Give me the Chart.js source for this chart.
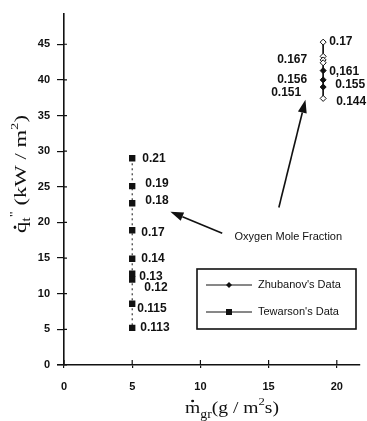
<!DOCTYPE html>
<html>
<head>
<meta charset="utf-8">
<script src="https://cdn.jsdelivr.net/npm/chart.js@4.4.1/dist/chart.umd.min.js"></script>
<style>
  html, body { margin: 0; padding: 0; background: #fff; }
</style>
</head>
<body>
<canvas id="heatChart" width="367" height="421"></canvas>
<script>
// === Data ===
const xTicks = [0, 5, 10, 15, 20];
const yTicks = [0, 5, 10, 15, 20, 25, 30, 35, 40, 45];

// Tewarson: mass flux (g/m2s) vs heat flux (kW/m2), labelled by O2 mole fraction
const tewMass = [5, 5, 5, 5, 5, 5, 5, 5, 5];
const tewHeat = [29.0, 25.1, 22.7, 18.9, 14.9, 12.8, 12.0, 8.6, 5.2];
const tewO2 = ["0.21", "0.19", "0.18", "0.17", "0.14", "0.13", "0.12", "0.115", "0.113"];

// Zhubanov
const zhMass = [19, 19, 19, 19, 19, 19, 19, 19];
const zhHeat = [45.3, 43.3, 42.8, 42.4, 41.3, 40.0, 39.0, 37.4];
const zhFilled = [false, false, false, false, true, true, true, false];
const zhO2 = ["0.17", "0.167", "0,161", "0.156", "0.155", "0.151", "0.144"];
const zhO2Heat = [45.3, 42.9, 41.1, 40.0, 39.3, 38.2, 36.9];

// === Label placement (pixels relative to the column) ===
const tewLabelDx = [10, 13, 13, 9, 9, 7, 12, 5, 8];
const tewLabelDy = [0, -2, -3, 2, 0, 3, 8, 5, 0];
const zhLabelDx = [6, -16, 6, -16, 12, -22, 13]; // negative = right-aligned on the left

const ink = "#111";
const labelFont = "bold 12px 'Liberation Sans', Arial, sans-serif";

// draw a run of text pieces (normal / sub / sup) stretched to a target width
function drawRich(ctx, pieces, cx, baseY, targetW) {
  let w = 0;
  pieces.forEach((p) => { ctx.font = p.font; p.w = ctx.measureText(p.t).width; w += p.w; });
  const k = targetW / w;
  ctx.save();
  ctx.translate(cx - targetW / 2, baseY);
  ctx.scale(k, 1);
  let x = 0;
  pieces.forEach((p) => {
    ctx.font = p.font;
    ctx.fillText(p.t, x, p.dy || 0);
    if (p.dot) {
      ctx.beginPath();
      ctx.arc(x + p.w / 2, -p.dot, 1.3, 0, Math.PI * 2);
      ctx.fill();
    }
    x += p.w;
  });
  ctx.restore();
}

const decorPlugin = {
  id: "decor",
  afterDraw(chart) {
    const { ctx, scales: { x, y } } = chart;
    ctx.save();
    ctx.strokeStyle = ink;
    ctx.fillStyle = ink;

    // inner halves of the crossing ticks + axis stub left of origin
    ctx.lineWidth = 1.2;
    ctx.beginPath();
    yTicks.forEach((v) => {
      const py = y.getPixelForValue(v);
      ctx.moveTo(x.left, py);
      ctx.lineTo(x.left + 3, py);
    });
    xTicks.forEach((v) => {
      const px = x.getPixelForValue(v);
      ctx.moveTo(px, y.bottom);
      ctx.lineTo(px, y.bottom - 5);
    });
    ctx.moveTo(x.left - 7, y.bottom);
    ctx.lineTo(x.left, y.bottom);
    ctx.stroke();

    // point labels
    ctx.font = labelFont;
    ctx.textBaseline = "middle";
    tewO2.forEach((t, i) => {
      ctx.textAlign = "left";
      ctx.fillText(t, x.getPixelForValue(tewMass[i]) + tewLabelDx[i], y.getPixelForValue(tewHeat[i]) + tewLabelDy[i]);
    });
    zhO2.forEach((t, i) => {
      const dx = zhLabelDx[i];
      ctx.textAlign = dx < 0 ? "right" : "left";
      ctx.fillText(t, x.getPixelForValue(zhMass[0]) + dx, y.getPixelForValue(zhO2Heat[i]));
    });

    // annotation text + arrows
    ctx.font = "11px 'Liberation Sans', Arial, sans-serif";
    ctx.textAlign = "left";
    ctx.fillText("Oxygen Mole Fraction", x.getPixelForValue(12.5), y.getPixelForValue(18.0));
    const arrow = (x0, y0, x1, y1) => {
      const ax = x.getPixelForValue(x0), ay = y.getPixelForValue(y0);
      const bx = x.getPixelForValue(x1), by = y.getPixelForValue(y1);
      const ang = Math.atan2(by - ay, bx - ax);
      const hl = 13, hw = 4.5;
      ctx.lineWidth = 1.6;
      ctx.beginPath();
      ctx.moveTo(ax, ay);
      ctx.lineTo(bx - hl * Math.cos(ang), by - hl * Math.sin(ang));
      ctx.stroke();
      ctx.beginPath();
      ctx.moveTo(bx, by);
      ctx.lineTo(bx - hl * Math.cos(ang) + hw * Math.sin(ang), by - hl * Math.sin(ang) - hw * Math.cos(ang));
      ctx.lineTo(bx - hl * Math.cos(ang) - hw * Math.sin(ang), by - hl * Math.sin(ang) + hw * Math.cos(ang));
      ctx.closePath();
      ctx.fill();
    };
    arrow(11.6, 18.5, 7.8, 21.5);
    arrow(15.75, 22.1, 17.7, 37.2);

    // legend box
    ctx.lineWidth = 1.6;
    ctx.strokeRect(197, 269, 159, 60);
    ctx.lineWidth = 1;
    ctx.beginPath();
    ctx.moveTo(206, 285); ctx.lineTo(252, 285);
    ctx.moveTo(206, 312); ctx.lineTo(252, 312);
    ctx.stroke();
    ctx.beginPath();
    ctx.moveTo(229, 282); ctx.lineTo(232, 285); ctx.lineTo(229, 288); ctx.lineTo(226, 285);
    ctx.closePath();
    ctx.fill();
    ctx.fillRect(226, 309, 6, 6);
    ctx.font = "11px 'Liberation Sans', Arial, sans-serif";
    ctx.textBaseline = "middle";
    ctx.fillText("Zhubanov's Data", 258, 285);
    ctx.fillText("Tewarson's Data", 258, 312);

    // axis titles
    ctx.textAlign = "left";
    ctx.textBaseline = "alphabetic";
    const serif = "'Liberation Serif', 'Times New Roman', serif";
    drawRich(ctx, [
      { t: "m", font: "17px " + serif, dot: 12 },
      { t: "gr", font: "12px " + serif, dy: 5 },
      { t: "(g / m", font: "17px " + serif },
      { t: "2", font: "11px " + serif, dy: -8 },
      { t: "s)", font: "17px " + serif },
    ], 232, 413, 94);

    ctx.save();
    ctx.translate(26, 174);
    ctx.rotate(-Math.PI / 2);
    drawRich(ctx, [
      { t: "q", font: "17px " + serif, dot: 11 },
      { t: "t", font: "12px " + serif, dy: 4 },
      { t: "\"", font: "11px " + serif, dy: -9 },
      { t: " (kW / m", font: "17px " + serif },
      { t: "2", font: "11px " + serif, dy: -8 },
      { t: ")", font: "17px " + serif },
    ], 0, 0, 118);
    ctx.restore();

    ctx.restore();
  },
};

const ctx = document.getElementById("heatChart").getContext("2d");

new Chart(ctx, {
  type: "scatter",
  data: {
    datasets: [
      {
        label: "Zhubanov's Data",
        data: zhMass.map((m, i) => ({ x: m, y: zhHeat[i] })),
        showLine: true,
        borderColor: ink,
        borderWidth: 1,
        pointStyle: "rectRot",
        pointRadius: 3,
        pointBorderWidth: 1,
        pointBorderColor: ink,
        pointBackgroundColor: zhFilled.map((f) => (f ? ink : "#fff")),
      },
      {
        label: "Tewarson's Data",
        data: tewMass.map((m, i) => ({ x: m, y: tewHeat[i] })),
        showLine: true,
        borderColor: ink,
        borderWidth: 1,
        borderDash: [2, 3],
        pointStyle: "rect",
        pointRadius: 4.5,
        pointBorderWidth: 0,
        pointBackgroundColor: ink,
      },
    ],
  },
  options: {
    responsive: false,
    animation: false,
    layout: { padding: { top: 10, right: 7, left: 0, bottom: 0 } },
    plugins: {
      legend: { display: false },
      tooltip: { enabled: false },
    },
    scales: {
      x: {
        type: "linear",
        min: 0,
        max: 21.7,
        afterBuildTicks: (s) => { s.ticks = xTicks.map((v) => ({ value: v })); },
        afterFit: (s) => { s.height = 56; },
        ticks: {
          color: ink,
          padding: 12,
          maxRotation: 0,
          font: { family: "'Liberation Sans', Arial, sans-serif", size: 11, weight: "bold" },
        },
        grid: { display: true, drawOnChartArea: false, drawTicks: true, tickLength: 3, color: ink, lineWidth: 1.2 },
        border: { display: true, color: ink, width: 1.6 },
      },
      y: {
        type: "linear",
        min: 0,
        max: 49.3,
        afterBuildTicks: (s) => { s.ticks = yTicks.map((v) => ({ value: v })); },
        afterFit: (s) => { s.width = 64; },
        ticks: {
          color: ink,
          padding: 7,
          font: { family: "'Liberation Sans', Arial, sans-serif", size: 11, weight: "bold" },
        },
        grid: { display: true, drawOnChartArea: false, drawTicks: true, tickLength: 7, color: ink, lineWidth: 1.2 },
        border: { display: true, color: ink, width: 1.6 },
      },
    },
  },
  plugins: [decorPlugin],
});
</script>
</body>
</html>
